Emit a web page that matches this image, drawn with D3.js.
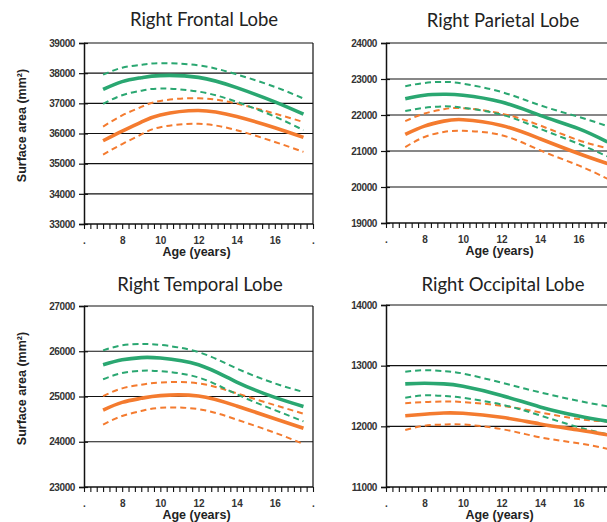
<!DOCTYPE html>
<html>
<head>
<meta charset="utf-8">
<script src="https://cdn.jsdelivr.net/npm/d3@7"></script>
<style>
  html, body { margin: 0; padding: 0; background: #fff; }
  svg { display: block; }
</style>
</head>
<body>
<svg id="chart" width="607" height="522"></svg>
<script>
// ---------- data ----------
const ages = [7, 8, 9, 10, 12, 14, 16, 17.5];
const xTickValues = [6, 8, 10, 12, 14, 16, 18];
const xTickLabels = [".", "8", "10", "12", "14", "16", "."];

const titles = ["Right Frontal Lobe", "Right Parietal Lobe", "Right Temporal Lobe", "Right Occipital Lobe"];

const frontalTicks   = [33000, 34000, 35000, 36000, 37000, 38000, 39000];
const parietalTicks  = [19000, 20000, 21000, 22000, 23000, 24000];
const temporalTicks  = [23000, 24000, 25000, 26000, 27000];
const occipitalTicks = [11000, 12000, 13000, 14000];

// Frontal
const frontalGreenUpper  = [37950, 38180, 38280, 38330, 38260, 37960, 37545, 37160];
const frontalGreen       = [37460, 37720, 37850, 37920, 37860, 37520, 37050, 36640];
const frontalGreenLower  = [36980, 37270, 37420, 37490, 37390, 37050, 36560, 36110];
const frontalOrangeUpper = [36230, 36600, 36880, 37080, 37170, 36990, 36660, 36380];
const frontalOrange      = [35760, 36080, 36380, 36610, 36760, 36560, 36190, 35870];
const frontalOrangeLower = [35300, 35650, 35970, 36210, 36320, 36110, 35720, 35390];

// Parietal
const parietalGreenUpper  = [22800, 22890, 22920, 22870, 22640, 22270, 21950, 21690];
const parietalGreen       = [22450, 22550, 22575, 22550, 22360, 21990, 21620, 21250];
const parietalGreenLower  = [22110, 22200, 22240, 22200, 22010, 21620, 21200, 20850];
const parietalOrangeUpper = [21830, 22040, 22160, 22190, 22040, 21710, 21300, 21080];
const parietalOrange      = [21460, 21690, 21830, 21870, 21710, 21340, 20930, 20650];
const parietalOrangeLower = [21110, 21390, 21530, 21560, 21440, 21020, 20600, 20230];

// Temporal
const temporalGreenUpper  = [26020, 26130, 26160, 26140, 25980, 25620, 25290, 25100];
const temporalGreen       = [25700, 25810, 25860, 25850, 25700, 25320, 24980, 24780];
const temporalGreenLower  = [25380, 25520, 25570, 25560, 25420, 25050, 24700, 24450];
const temporalOrangeUpper = [25010, 25180, 25260, 25310, 25290, 25070, 24810, 24620];
const temporalOrange      = [24700, 24870, 24960, 25020, 25010, 24790, 24510, 24300];
const temporalOrangeLower = [24380, 24570, 24680, 24750, 24720, 24490, 24200, 23950];

// Occipital
const occipitalGreenUpper  = [12900, 12925, 12910, 12870, 12720, 12560, 12420, 12330];
const occipitalGreen       = [12700, 12710, 12700, 12660, 12510, 12320, 12170, 12085];
const occipitalGreenLower  = [12470, 12510, 12500, 12470, 12360, 12180, 11985, 11870];
const occipitalOrangeUpper = [12380, 12400, 12410, 12400, 12340, 12230, 12120, 12080];
const occipitalOrange      = [12175, 12200, 12220, 12215, 12150, 12040, 11940, 11860];
const occipitalOrangeLower = [11940, 12010, 12030, 12030, 11955, 11820, 11720, 11630];

// ---------- styles / layout ----------
const GREEN = "#2aa771";
const ORANGE = "#f47b2f";
const TICK_FONT = "'Liberation Sans', Arial, sans-serif";
const TITLE_FONT = "Lato, 'Open Sans', sans-serif";
const SVG_W = 607;

const panels = [
  { title: titles[0], ticks: frontalTicks, left: 84, top: 43, w: 229, h: 181, titleX: 204, titleY: 26, ylabel: true,
    series: [frontalGreenUpper, frontalGreen, frontalGreenLower, frontalOrangeUpper, frontalOrange, frontalOrangeLower] },
  { title: titles[1], ticks: parietalTicks, left: 386, top: 43, w: 231, h: 180, titleX: 503, titleY: 27, ylabel: false,
    series: [parietalGreenUpper, parietalGreen, parietalGreenLower, parietalOrangeUpper, parietalOrange, parietalOrangeLower] },
  { title: titles[2], ticks: temporalTicks, left: 84, top: 306, w: 229, h: 181, titleX: 200, titleY: 291, ylabel: true,
    series: [temporalGreenUpper, temporalGreen, temporalGreenLower, temporalOrangeUpper, temporalOrange, temporalOrangeLower] },
  { title: titles[3], ticks: occipitalTicks, left: 386, top: 305, w: 231, h: 182, titleX: 503, titleY: 291, ylabel: false,
    series: [occipitalGreenUpper, occipitalGreen, occipitalGreenLower, occipitalOrangeUpper, occipitalOrange, occipitalOrangeLower] }
];

const svg = d3.select("#chart");
svg.append("rect").attr("width", 607).attr("height", 522).attr("fill", "#fff");

const minorTicks = d3.range(0, 37).map(i => 6 + i / 3);

panels.forEach(p => {
  const g = svg.append("g").attr("transform", `translate(${p.left},${p.top})`);
  const x = d3.scaleLinear().domain([6, 18]).range([0, p.w]);
  const y = d3.scaleLinear().domain([d3.min(p.ticks), d3.max(p.ticks)]).range([p.h, 0]);

  // title
  svg.append("text")
    .attr("x", p.titleX).attr("y", p.titleY)
    .attr("text-anchor", "middle")
    .attr("font-family", TITLE_FONT)
    .attr("font-size", 18.5)
    .attr("fill", "#222")
    .text(p.title);

  // gridlines
  g.selectAll("line.grid")
    .data(p.ticks.slice(1))
    .join("line")
    .attr("class", "grid")
    .attr("x1", 0).attr("x2", p.w)
    .attr("y1", d => y(d)).attr("y2", d => y(d))
    .attr("stroke", "#111").attr("stroke-width", 1.2);

  // right border
  g.append("line")
    .attr("x1", p.w).attr("x2", p.w).attr("y1", 0).attr("y2", p.h)
    .attr("stroke", "#111").attr("stroke-width", 1.2);

  // y axis
  const yAxis = g.append("g")
    .call(d3.axisLeft(y).tickValues(p.ticks).tickSize(5).tickPadding(4).tickFormat(d3.format("d")));
  yAxis.select(".domain").attr("stroke", "#111").attr("stroke-width", 1.5);
  yAxis.selectAll(".tick line").attr("x2", -5).attr("x1", 4).attr("stroke", "#111").attr("stroke-width", 1.2);
  yAxis.selectAll(".tick text")
    .attr("font-family", TICK_FONT).attr("font-weight", "bold").attr("font-size", 10)
    .attr("letter-spacing", "-0.4").attr("fill", "#333");

  // x axis (labels that would fall past the window edge are not shown, as in the reference)
  const labelMap = new Map(xTickValues.map((v, i) => [v, xTickLabels[i]]));
  const xAxis = g.append("g")
    .attr("transform", `translate(0,${p.h})`)
    .call(d3.axisBottom(x).tickValues(minorTicks).tickSize(5).tickPadding(8)
      .tickFormat(d => {
        const k = xTickValues.find(v => Math.abs(v - d) < 1e-6);
        if (k === undefined) return "";
        if (p.left + x(k) > SVG_W - 4) return "";
        return labelMap.get(k);
      }));
  xAxis.select(".domain").attr("stroke", "#111").attr("stroke-width", 1.5).attr("d", `M0,0H${p.w}`);
  xAxis.selectAll(".tick line").attr("stroke", "#111").attr("stroke-width", 1.1);
  xAxis.selectAll(".tick text")
    .attr("font-family", TICK_FONT).attr("font-weight", "bold").attr("font-size", 10)
    .attr("fill", "#333");

  // x label
  g.append("text")
    .attr("x", p.w / 2 - 2).attr("y", p.h + 32)
    .attr("text-anchor", "middle")
    .attr("font-family", TICK_FONT).attr("font-weight", "bold").attr("font-size", 12.5)
    .attr("fill", "#222")
    .text("Age (years)");

  // y label
  if (p.ylabel) {
    svg.append("text")
      .attr("transform", `translate(26,${p.top + p.h / 2 - 8}) rotate(-90)`)
      .attr("text-anchor", "middle")
      .attr("font-family", TICK_FONT).attr("font-weight", "bold").attr("font-size", 12.5)
      .attr("fill", "#222")
      .text("Surface area (mm²)");
  }

  // curves
  const line = d3.line()
    .x((d, i) => x(ages[i]))
    .y(d => y(d))
    .curve(d3.curveNatural);

  const styles = [
    { c: GREEN, dash: true }, { c: GREEN, dash: false }, { c: GREEN, dash: true },
    { c: ORANGE, dash: true }, { c: ORANGE, dash: false }, { c: ORANGE, dash: true }
  ];
  const order = [3, 5, 0, 2, 4, 1];
  order.forEach(i => {
    g.append("path")
      .datum(p.series[i])
      .attr("d", line)
      .attr("fill", "none")
      .attr("stroke", styles[i].c)
      .attr("stroke-width", styles[i].dash ? 2 : 3.6)
      .attr("stroke-dasharray", styles[i].dash ? "6,4" : null)
      .attr("stroke-linecap", "butt");
  });
});
</script>
</body>
</html>
